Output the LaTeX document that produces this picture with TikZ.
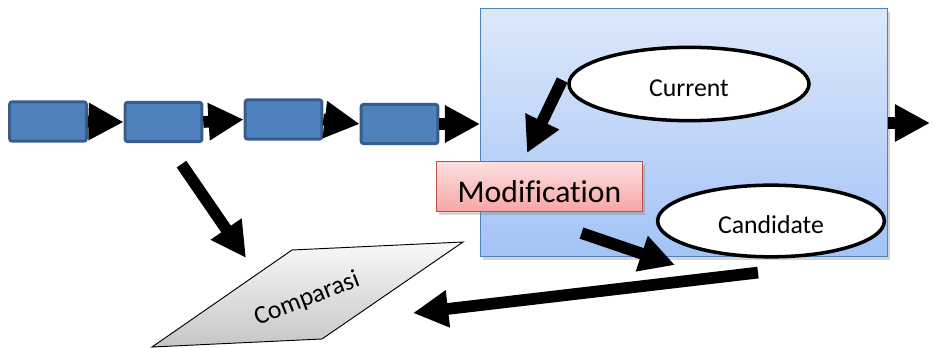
\documentclass[tikz,border=0pt]{standalone}
\usepackage{fontspec}
\setmainfont{Carlito}[Ligatures=NoCommon]
\usetikzlibrary{arrows.meta,shapes.geometric,shadows,positioning}
\definecolor{chainblue}{HTML}{4F81BD}
\definecolor{chainedge}{HTML}{385D8A}
\definecolor{boxtop}{HTML}{DDE8FB}
\definecolor{boxbottom}{HTML}{A3C3F6}
\definecolor{modtop}{HTML}{FDE0E0}
\definecolor{modbottom}{HTML}{F8A5A5}
\definecolor{modedge}{HTML}{C0504D}

\begin{document}
\begin{tikzpicture}[x=0.03cm,y=-0.03cm,
        chainbox/.style={draw=chainedge,fill=chainblue,line width=2.5pt,rounded corners=2pt,
            minimum width=2.3cm,minimum height=1.18cm,inner sep=0pt},
        fat/.style={line width=10pt,-{Triangle[length=30pt,width=30pt]}},
        state/.style={ellipse,draw=black,fill=white,line width=3pt,inner sep=0pt,
            text height=22pt,text depth=0pt,font=\fontsize{22}{26}\selectfont},
        softshadow/.style={drop shadow={shadow xshift=2pt,shadow yshift=-3pt,opacity=0.35}}]
    \useasboundingbox (0,0) rectangle (934,348);
    % Chain of boxes
    \node[chainbox] (b1) at (48,121.5) {};
    \node[chainbox] (b2) at (163.5,122) {};
    \node[chainbox] (b3) at (283.5,119.5) {};
    \node[chainbox] (b4) at (399.5,124) {};
    % Process box
    \node[draw=chainblue,line width=1pt,top color=boxtop,bottom color=boxbottom,softshadow,
        minimum width=12.2cm,minimum height=7.44cm,inner sep=0pt] (proc) at (684,132.5) {};
    % States
    \node[state,minimum width=7.2cm,minimum height=2.2cm] (cur) at (689,84) {Current};
    \node[state,minimum width=6.8cm,minimum height=2.15cm] (cand) at (771,221) {Candidate};
    % Modification
    \node[draw=modedge,line width=1pt,top color=modtop,bottom color=modbottom,softshadow,
        minimum width=6.2cm,minimum height=1.5cm,inner sep=0pt,text height=27pt,text depth=0pt,
        font=\fontsize{27}{32}\selectfont] (mod) at (539.5,186.5) {Modification};
    % Comparison
    \shadedraw[top color=gray!5,bottom color=gray!45,draw=black,line width=0.8pt]
        (292,250) -- (463,242) -- (322,339) -- (152,347) -- cycle;
    \node[rotate=21,font=\fontsize{22}{26}\selectfont] (cmp) at (307,299) {Comparasi};
    % Arrow ends
    \coordinate (outend) at (930,123);
    \coordinate (modin) at (527,153);
    \coordinate (candin) at (675,265);
    \coordinate (cmpin) at (246,258);
    \coordinate (cmpside) at (413,313);
    % Arrows
    \draw[fat] (b1.east) -- (b2.west);
    \draw[fat] (b2.east) -- (b3.west);
    \draw[fat] (b3.east) -- (b4.west);
    \draw[fat] (b4.east) -- (proc.west |- b4);
    \draw[fat] (proc.east |- outend) -- (outend);
    \draw[fat] ([shift={(-5,-4)}]cur.west) -- (modin);
    \draw[fat] ([shift={(42,21)}]mod.south) -- (candin);
    \draw[fat] ([shift={(-13,14)}]cand.south) -- (cmpside);
    \draw[fat] ([shift={(18,21)}]b2.south) -- (cmpin);
\end{tikzpicture}
\end{document}
